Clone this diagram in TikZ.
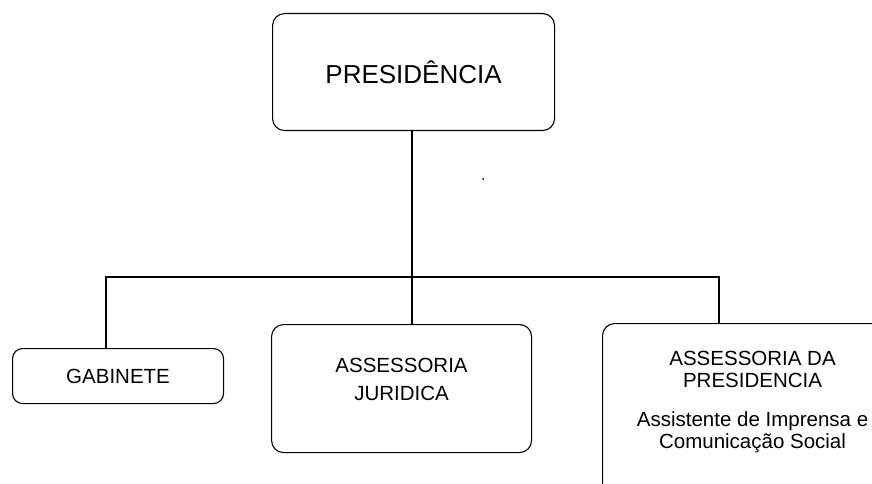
\documentclass[tikz,border=0pt]{standalone}
\usepackage{fontspec}
\setmainfont{Liberation Sans}
\begin{document}
\begin{tikzpicture}[x=1pt,y=-1pt,
    caixa/.style={draw,line width=1.1pt,rounded corners=12pt,align=center,inner sep=0pt},
    ligacao/.style={line width=1.1pt}]
  \useasboundingbox (0,0) rectangle (872,484);
  \clip (0,0) rectangle (872,484);
  % presidencia
  \node[caixa,anchor=north west,minimum width=282pt,minimum height=117pt,
        font=\fontsize{26}{31}\selectfont] (presid) at (272,13) {PRESIDÊNCIA};
  % unidades
  \node[caixa,anchor=north west,minimum width=211pt,minimum height=55pt,rounded corners=10pt,
        font=\fontsize{20.5}{24}\selectfont] (gabin) at (12,348) {GABINETE};
  \node[caixa,anchor=north west,minimum width=260pt,minimum height=128pt,
        font=\fontsize{20.5}{28}\selectfont,text depth=18pt] (jurid) at (271,324) {ASSESSORIA\\JURIDICA};
  \node[caixa,anchor=north west,minimum width=300pt,minimum height=176pt,
        font=\fontsize{20.5}{22}\selectfont,text depth=24pt] (asspres) at (602,323)
        {ASSESSORIA DA\\PRESIDENCIA\\[17pt]Assistente de Imprensa e\\Comunicação Social};

  % linhas
  \coordinate (barra) at (412,277);
  \coordinate (ramoesq) at (106,277);
  \coordinate (ramodir) at (719,277);
  \draw[ligacao] (presid.south -| barra) -- (jurid.north -| barra);
  \draw[ligacao] (ramoesq |- gabin.north) -- (ramoesq) -- (ramodir) -- (ramodir |- asspres.north);

  \fill (483,179) circle (1pt);
\end{tikzpicture}
\end{document}
